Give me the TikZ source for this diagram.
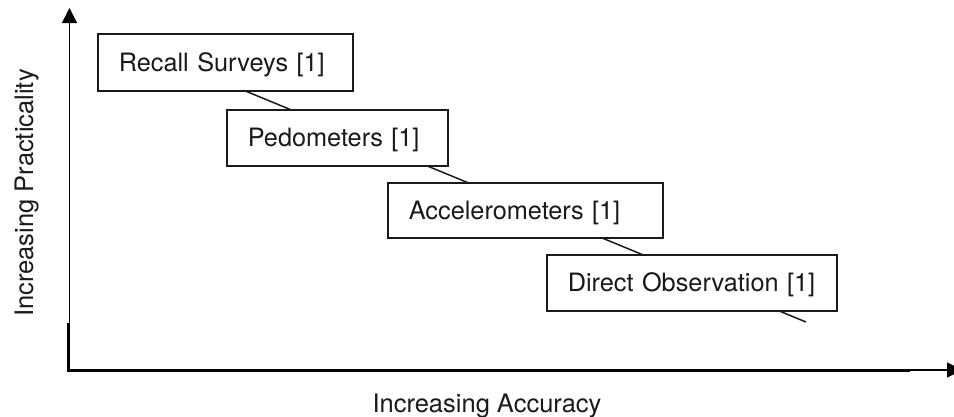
\documentclass[tikz,border=0pt]{standalone}
\usepackage{fontspec}
\setmainfont{TeX Gyre Heros}
\usetikzlibrary{arrows.meta,backgrounds}
\definecolor{ink}{HTML}{1A1A1A}
\begin{document}
\begin{tikzpicture}[x=1pt,y=-1pt,
  mbox/.style={draw=ink,line width=1.6pt,fill=white,anchor=north west,
    inner xsep=21pt,inner ysep=0pt,align=left,
    font=\fontsize{25.3}{29}\selectfont,text=ink},
  axlabel/.style={font=\fontsize{25.5}{29}\selectfont,text=ink,anchor=base,inner sep=0pt},
  trend/.style={draw=ink,line width=1.5pt},
  thinax/.style={draw=black,line width=1.3pt},
  thickax/.style={draw=black,line width=3pt}]
\useasboundingbox (0,0) rectangle (954,416);
\node[mbox,text width=213pt,text height=37.25pt,text depth=19.75pt] (b1) at (97,33) {\mbox{Recall Surveys [1]}};
\node[mbox,text width=179pt,text height=36.75pt,text depth=19.25pt] (b2) at (226,109) {\mbox{Pedometers [1]}};
\node[mbox,text width=233pt,text height=36.25pt,text depth=18.75pt] (b3) at (387,182) {\mbox{Accelerometers [1]}};
\node[mbox,text width=248pt,text height=36.75pt,text depth=19.25pt] (b4) at (546,254) {\mbox{Direct Observation [1]}};
\coordinate (ls) at (200,72.3);
\coordinate (le) at (806,322);
\begin{pgfonlayer}{background}
\draw[trend] (ls) -- (le);
\end{pgfonlayer}
\coordinate (o) at (68.5,371.5);
\coordinate (ym) at (69.5,323);
\coordinate (yt) at (69.5,8);
\coordinate (xs) at (67,370);
\coordinate (xm) at (910,370);
\coordinate (xt) at (962,370);
\draw[thinax,-{Triangle[width=15pt,length=15pt]}] (ym) -- (yt);
\draw[thickax] (o) -- (o |- ym);
\draw[thickax] (xs) -- (xm);
\draw[line width=1.8pt,-{Triangle[width=15pt,length=15pt]}] (xm) -- (xt);
\node[axlabel] (xl) at (487,412) {Increasing Accuracy};
\node[axlabel,rotate=90] (yl) at (33,193) {Increasing Practicality};
\end{tikzpicture}
\end{document}
